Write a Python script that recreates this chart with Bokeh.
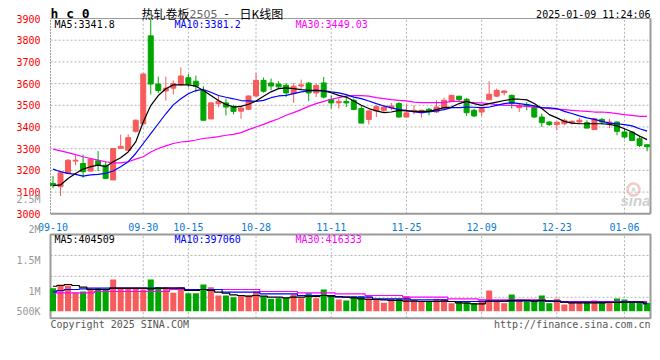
from bokeh.plotting import figure
from bokeh.models import Range1d, LinearAxis, FixedTicker, ColumnDataSource
from bokeh.embed import file_html
from bokeh.resources import INLINE
from bokeh.core.properties import value

# ---------------- data ----------------
dates = ["09-10", "09-11", "09-12", "09-13", "09-18", "09-19", "09-20", "09-23", "09-24", "09-25",
         "09-26", "09-27", "09-30", "10-08", "10-09", "10-10", "10-11", "10-14", "10-15", "10-16",
         "10-17", "10-18", "10-21", "10-22", "10-23", "10-24", "10-25", "10-28", "10-29", "10-30",
         "10-31", "11-01", "11-04", "11-05", "11-06", "11-07", "11-08", "11-11", "11-12", "11-13",
         "11-14", "11-15", "11-18", "11-19", "11-20", "11-21", "11-22", "11-25", "11-26", "11-27",
         "11-28", "11-29", "12-02", "12-03", "12-04", "12-05", "12-06", "12-09", "12-10", "12-11",
         "12-12", "12-13", "12-16", "12-17", "12-18", "12-19", "12-20", "12-23", "12-24", "12-25",
         "12-26", "12-27", "12-30", "12-31", "01-02", "01-03", "01-06", "01-07", "01-08", "01-09"]

opens = [3140, 3125, 3186, 3243, 3232, 3197, 3244, 3224, 3156, 3302,
         3293, 3380, 3415, 3820, 3598, 3566, 3579, 3595, 3627, 3611,
         3568, 3437, 3507, 3511, 3495, 3473, 3482, 3543, 3615, 3603,
         3598, 3592, 3554, 3589, 3602, 3557, 3603, 3526, 3511, 3518,
         3523, 3485, 3435, 3474, 3477, 3489, 3508, 3446, 3472, 3466,
         3482, 3469, 3485, 3517, 3542, 3528, 3477, 3469, 3526, 3542,
         3558, 3546, 3489, 3503, 3492, 3446, 3423, 3411, 3415, 3420,
         3423, 3420, 3388, 3435, 3415, 3423, 3377, 3377, 3346, 3318]
highs = [3174, 3190, 3252, 3270, 3273, 3258, 3289, 3240, 3301, 3365,
         3366, 3435, 3647, 3899, 3632, 3632, 3614, 3675, 3644, 3637,
         3588, 3515, 3545, 3530, 3502, 3499, 3545, 3649, 3628, 3623,
         3611, 3603, 3603, 3618, 3608, 3600, 3631, 3546, 3531, 3542,
         3531, 3500, 3477, 3500, 3495, 3511, 3515, 3508, 3500, 3480,
         3488, 3523, 3535, 3548, 3543, 3534, 3485, 3492, 3611, 3577,
         3569, 3549, 3508, 3515, 3500, 3462, 3426, 3426, 3438, 3431,
         3442, 3431, 3442, 3442, 3438, 3426, 3392, 3380, 3358, 3320]
lows = [3118, 3082, 3182, 3224, 3166, 3194, 3197, 3160, 3156, 3301,
        3289, 3374, 3415, 3550, 3557, 3522, 3550, 3591, 3583, 3560,
        3431, 3437, 3492, 3453, 3458, 3438, 3478, 3538, 3558, 3569,
        3577, 3538, 3511, 3572, 3520, 3538, 3531, 3485, 3485, 3492,
        3477, 3418, 3412, 3446, 3469, 3477, 3443, 3443, 3458, 3443,
        3454, 3465, 3480, 3515, 3518, 3451, 3446, 3451, 3526, 3538,
        3546, 3485, 3469, 3477, 3442, 3400, 3405, 3385, 3408, 3411,
        3415, 3392, 3388, 3411, 3395, 3362, 3346, 3334, 3308, 3288]
closes = [3130, 3189, 3247, 3247, 3194, 3252, 3224, 3163, 3301, 3311,
          3351, 3431, 3644, 3598, 3568, 3579, 3600, 3635, 3598, 3588,
          3431, 3511, 3519, 3492, 3472, 3487, 3543, 3615, 3565, 3589,
          3585, 3557, 3588, 3594, 3557, 3592, 3538, 3511, 3518, 3511,
          3481, 3418, 3474, 3495, 3492, 3497, 3446, 3465, 3477, 3477,
          3474, 3492, 3523, 3546, 3526, 3466, 3451, 3485, 3551, 3569,
          3566, 3508, 3500, 3497, 3446, 3420, 3411, 3422, 3431, 3426,
          3431, 3395, 3438, 3423, 3423, 3380, 3354, 3338, 3315, 3309]

ma5 = [3130, 3133, 3163, 3186, 3206, 3217, 3224, 3217, 3240, 3258,
       3285, 3331, 3423, 3499, 3545, 3576, 3594, 3594, 3594, 3588,
       3568, 3545, 3522, 3504, 3492, 3495, 3505, 3520, 3542, 3562,
       3577, 3580, 3577, 3572, 3569, 3569, 3566, 3558, 3546, 3538,
       3520, 3500, 3485, 3474, 3466, 3469, 3477, 3474, 3472, 3472,
       3472, 3480, 3489, 3492, 3508, 3518, 3508, 3500, 3508, 3515,
       3522, 3528, 3528, 3525, 3508, 3485, 3457, 3442, 3426, 3418,
       3415, 3415, 3415, 3415, 3412, 3405, 3392, 3377, 3358, 3341.8]
ma10 = [3206, 3194, 3186, 3182, 3174, 3179, 3182, 3186, 3197, 3217,
        3240, 3278, 3324, 3369, 3415, 3461, 3502, 3530, 3553, 3568,
        3573, 3560, 3545, 3537, 3530, 3522, 3520, 3518, 3523, 3535,
        3543, 3546, 3554, 3562, 3566, 3569, 3568, 3562, 3557, 3549,
        3538, 3531, 3520, 3508, 3497, 3488, 3480, 3477, 3469, 3466,
        3469, 3474, 3480, 3489, 3489, 3492, 3491, 3489, 3492, 3500,
        3508, 3512, 3508, 3503, 3497, 3489, 3488, 3485, 3472, 3462,
        3451, 3442, 3435, 3426, 3418, 3415, 3411, 3405, 3392, 3381.2]
ma30 = [3298, 3290, 3282, 3273, 3263, 3255, 3247, 3240, 3235, 3235,
        3240, 3252, 3263, 3285, 3301, 3313, 3324, 3331, 3334, 3340,
        3347, 3351, 3356, 3362, 3366, 3374, 3388, 3400, 3412, 3426,
        3438, 3454, 3466, 3480, 3495, 3508, 3518, 3528, 3535, 3542,
        3545, 3545, 3542, 3535, 3531, 3526, 3523, 3520, 3515, 3512,
        3512, 3512, 3512, 3518, 3518, 3515, 3512, 3511, 3508, 3503,
        3500, 3500, 3497, 3495, 3492, 3489, 3485, 3482, 3480, 3477,
        3474, 3472, 3469, 3469, 3466, 3462, 3457, 3454, 3449, 3449.03]

volumes = [1049000, 1109000, 1093000, 974000, 995000, 1049000, 1049000, 1028000, 1191000, 1049000,
           1049000, 1039000, 1028000, 1191000, 1065000, 1065000, 974000, 1065000, 967000, 967000,
           1109000, 1065000, 930000, 930000, 902000, 930000, 930000, 995000, 914000, 876000,
           886000, 892000, 946000, 886000, 967000, 886000, 1028000, 930000, 865000, 849000,
           919000, 919000, 919000, 876000, 811000, 876000, 876000, 919000, 849000, 837000,
           837000, 876000, 865000, 805000, 821000, 821000, 805000, 865000, 1011000, 837000,
           805000, 946000, 865000, 837000, 865000, 930000, 805000, 876000, 783000, 821000,
           811000, 811000, 849000, 811000, 811000, 881000, 865000, 811000, 811000, 811000]
vol_ma5 = [1081000, 1093000, 1109000, 1093000, 1065000, 1028000, 1028000, 1028000, 1049000, 1049000,
           1049000, 1049000, 1049000, 1039000, 1049000, 1049000, 1049000, 1049000, 1011000, 1011000,
           1028000, 1011000, 984000, 967000, 941000, 930000, 919000, 930000, 919000, 902000,
           902000, 892000, 902000, 902000, 914000, 914000, 930000, 919000, 914000, 902000,
           892000, 876000, 865000, 865000, 860000, 849000, 849000, 837000, 837000, 832000,
           832000, 832000, 837000, 832000, 811000, 805000, 795000, 795000, 837000, 837000,
           837000, 849000, 849000, 849000, 837000, 849000, 837000, 832000, 821000, 811000,
           811000, 811000, 811000, 811000, 816000, 816000, 821000, 821000, 821000, 809000]
vol_ma10 = [990000, 1011000, 1028000, 1028000, 1039000, 1049000, 1049000, 1049000, 1049000, 1049000,
            1049000, 1049000, 1049000, 1049000, 1049000, 1049000, 1049000, 1049000, 1028000, 1028000,
            1028000, 1028000, 1028000, 984000, 984000, 984000, 984000, 984000, 957000, 957000,
            957000, 957000, 957000, 930000, 930000, 930000, 930000, 930000, 902000, 902000,
            902000, 902000, 902000, 876000, 876000, 876000, 876000, 876000, 860000, 860000,
            860000, 860000, 860000, 832000, 832000, 832000, 832000, 832000, 837000, 837000,
            837000, 837000, 837000, 843000, 843000, 843000, 843000, 843000, 821000, 821000,
            821000, 821000, 821000, 821000, 821000, 821000, 821000, 821000, 821000, 794000]
vol_ma30 = [974000, 974000, 974000, 974000, 974000, 974000, 995000, 995000, 995000, 995000,
            995000, 995000, 995000, 995000, 995000, 995000, 1028000, 1028000, 1028000, 1028000,
            1028000, 1028000, 1028000, 1028000, 1028000, 1028000, 1028000, 1028000, 995000, 995000,
            995000, 995000, 995000, 974000, 974000, 974000, 974000, 974000, 957000, 957000,
            957000, 957000, 930000, 930000, 930000, 930000, 930000, 902000, 902000, 902000,
            902000, 902000, 902000, 876000, 876000, 876000, 876000, 860000, 860000, 860000,
            860000, 860000, 860000, 860000, 860000, 860000, 832000, 832000, 832000, 832000,
            832000, 832000, 832000, 832000, 832000, 832000, 832000, 832000, 832000, 832000]

price_ticks = [3000, 3100, 3200, 3300, 3400, 3500, 3600, 3700, 3800, 3900]
vol_ticks = [674000, 1000000, 1500000, 2000000, 2500000]
vol_tick_labels = ["500K", "1M", "1.5M", "2M", "2.5M"]
date_ticks = [0, 12, 18, 27, 37, 47, 57, 67, 76]

title_code = "h c 0"
title_name = "热轧卷板"
title_contract = "2505"
title_dash = "-"
title_kind = "日K线图"
timestamp = "2025-01-09 11:24:06"
price_legend = ["MA5:3341.8", "MA10:3381.2", "MA30:3449.03"]
vol_legend = ["MA5:404509", "MA10:397060", "MA30:416333"]
copyright_text = "Copyright 2025 SINA.COM"
url_text = "http://finance.sina.com.cn"
logo_text = "sina"

# ---------------- layout (screen pixels of the reference) ----------------
W, H = 660, 356
OX, OY = 0, 0
X0, DX = 52.5, 7.52
PY3000, PYK = 213.3, 0.2170
VY1M, VYK = 290.7, 30.7 / 500000


def xd(sx):
    return (sx - X0) / DX


def pd(sy):
    return 3000 + (PY3000 - sy) / PYK


def vd(sy):
    return 1e6 + (VY1M - sy) / VYK


UP, DOWN = "#f75b5b", "#00a600"
GRID = "#b4b4b4"
BORDER = "#9a9a9a"
MONO = value("DejaVu Sans Mono")
ma_colors = ["#000000", "#0000ff", "#ff00ff"]

p = figure(width=W, height=H, output_backend="svg", toolbar_location=None,
           x_range=Range1d(xd(OX), xd(OX + W)),
           y_range=Range1d(pd(OY + H), pd(OY)),
           x_axis_type=None, y_axis_type=None, min_border=0,
           outline_line_color=None, background_fill_color="white")
p.extra_y_ranges = {"vol": Range1d(vd(OY + H), vd(OY))}
p.xgrid.visible = False
p.ygrid.visible = False

PX0, PX1 = xd(50), xd(650)
PTOP, PBOT = price_ticks[-1], price_ticks[0]
VTOP, VBOT = vd(234), vd(317.7)
VBASE = vol_ticks[0]

idx = list(range(len(dates)))

# watermark logo (behind data)
p.scatter(x=[xd(633)], y=[pd(189)], marker="circle", size=12, fill_color=None,
          line_color="#f2caca", line_width=2.5)
p.scatter(x=[xd(633)], y=[pd(189)], marker="circle", size=4, fill_color="#d9d9d9",
          line_color=None)

# grids
hgrid = price_ticks[1:-1]
p.segment(x0=[PX0] * len(hgrid), x1=[PX1] * len(hgrid), y0=hgrid, y1=hgrid,
          line_color=GRID, line_dash="2 2", line_width=1)
vgrid_vals = [VBOT + k * (VTOP - VBOT) / 4 for k in (1, 2, 3)]
p.segment(x0=[PX0] * 3, x1=[PX1] * 3, y0=vgrid_vals, y1=vgrid_vals,
          line_color=GRID, line_dash="2 2", line_width=1, y_range_name="vol")
gx = date_ticks[1:]
p.segment(x0=gx, x1=gx, y0=[PBOT] * len(gx), y1=[PTOP] * len(gx),
          line_color=GRID, line_dash="2 2", line_width=1)
p.segment(x0=gx, x1=gx, y0=[VBOT] * len(gx), y1=[VTOP] * len(gx),
          line_color=GRID, line_dash="2 2", line_width=1, y_range_name="vol")

# panel borders
p.segment(x0=[PX0], x1=[PX1], y0=[PTOP], y1=[PTOP], line_color=BORDER, line_width=1)
p.segment(x0=[PX0], x1=[PX0], y0=[PBOT], y1=[PTOP], line_color=BORDER, line_width=1, line_dash="2 1")
p.segment(x0=[PX0, PX1], x1=[PX1, PX1], y0=[PBOT, PBOT], y1=[PBOT, PTOP], line_color=BORDER, line_width=2)
p.quad(left=[PX0], right=[PX1], bottom=[VBOT], top=[VTOP], fill_color=None,
       line_color=BORDER, line_width=2, y_range_name="vol")

# candles
colors = [UP if c >= o else DOWN for o, c in zip(opens, closes)]
src = ColumnDataSource(dict(x=idx, o=opens, h=highs, l=lows, c=closes,
                            top=[max(o, c) for o, c in zip(opens, closes)],
                            bot=[min(o, c) for o, c in zip(opens, closes)],
                            v=volumes, color=colors))
p.segment(x0="x", x1="x", y0="l", y1="h", line_color="color", line_width=1, source=src)
p.vbar(x="x", width=0.66, top="top", bottom="bot", fill_color="color", line_color="color",
       line_width=1, source=src)

# price MAs
for arr, col in zip([ma30, ma10, ma5], [ma_colors[2], ma_colors[1], ma_colors[0]]):
    p.line(idx, arr, line_color=col, line_width=1.2)

# volume bars
p.vbar(x="x", width=0.8, top="v", bottom=VBASE, fill_color="color", line_color=None,
       source=src, y_range_name="vol")
for arr, col in zip([vol_ma30, vol_ma10, vol_ma5], [ma_colors[2], ma_colors[1], ma_colors[0]]):
    p.step(idx, arr, mode="center", line_color=col, line_width=1.2, y_range_name="vol")

# axes
yax = LinearAxis(ticker=FixedTicker(ticks=price_ticks), fixed_location=PX0,
                 axis_line_color=None, major_tick_line_color=None, minor_tick_line_color=None,
                 major_label_standoff=4, major_label_text_color="#ff0000",
                 major_label_text_font="DejaVu Sans Mono", major_label_text_font_size="10px")
p.add_layout(yax, "left")
vax = LinearAxis(y_range_name="vol", ticker=FixedTicker(ticks=vol_ticks),
                 major_label_overrides=dict(zip(vol_ticks, vol_tick_labels)),
                 fixed_location=PX0,
                 axis_line_color=None, major_tick_line_color=None, minor_tick_line_color=None,
                 major_label_standoff=4, major_label_text_color="#999999",
                 major_label_text_font="DejaVu Sans Mono", major_label_text_font_size="10px")
p.add_layout(vax, "left")
xax = LinearAxis(ticker=FixedTicker(ticks=date_ticks),
                 major_label_overrides={t: dates[t] for t in date_ticks},
                 fixed_location=PBOT,
                 axis_line_color=None, major_tick_line_color=None, minor_tick_line_color=None,
                 major_label_standoff=3, major_label_text_color="#0a7ad0",
                 major_label_text_font="DejaVu Sans Mono", major_label_text_font_size="10px")
p.add_layout(xax, "below")

# texts
def txt(sx, sy, s, color="#000000", size="10px", font=MONO, align="left", style="normal",
        rng="default"):
    kw = {}
    if rng == "vol":
        kw["y_range_name"] = "vol"
        y = vd(sy)
    else:
        y = pd(sy)
    p.text(x=[xd(sx)], y=[y], text=[s], text_color=color, text_font=font,
           text_font_size=size, text_align=align, text_baseline="middle",
           text_font_style=style, **kw)


txt(50, 12.5, title_code, size="13px", style="bold")
txt(141, 12.5, title_name, size="12px", font=value("Noto Sans CJK SC"))
txt(189, 13, title_contract, color="#666666", size="11px", font=value("DejaVu Sans"))
txt(224, 12.5, title_dash, size="12px", font=value("Noto Sans CJK SC"))
txt(239, 12.5, title_kind, size="12px", font=value("Noto Sans CJK SC"))
txt(650, 14, timestamp, align="right")

for sx, s, col in zip([54, 174, 295], price_legend, ma_colors):
    txt(sx, 23.5, s, color=col)
for sx, s, col in zip([54, 174, 295], vol_legend, ma_colors):
    txt(sx, 238.5, s, color=col, rng="vol")

txt(50, 324, copyright_text, color="#555555", rng="vol")
txt(650, 324, url_text, color="#555555", align="right", rng="vol")
txt(650, 200, logo_text, color="#cfcfcf", size="15px", font=value("Liberation Sans"),
    align="right", style="bold italic")

open("out.html", "w").write(file_html(p, INLINE))
